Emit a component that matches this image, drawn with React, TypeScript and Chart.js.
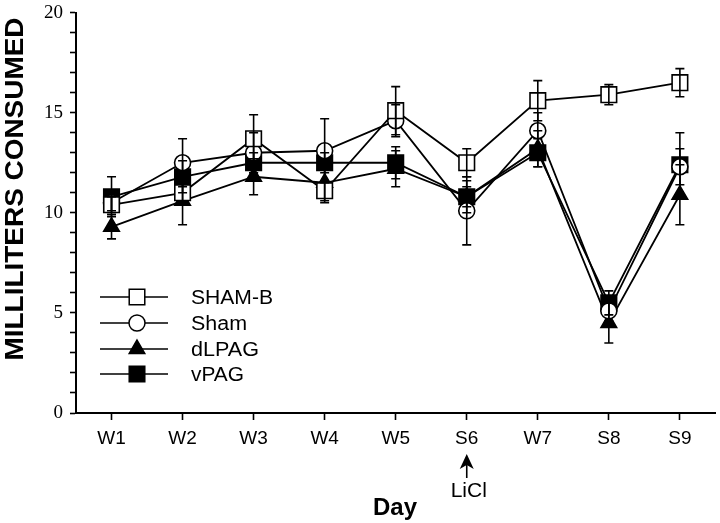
import React, { useEffect, useRef } from "react";
import { Chart, registerables } from "chart.js";

Chart.register(...registerables);

const days = ["W1", "W2", "W3", "W4", "W5", "S6", "W7", "S8", "S9"];
const shamB = [10.4, 11.0, 13.7, 11.1, 15.1, 12.5, 15.6, 15.9, 16.5];
const shamBErr = [0.4, 0.6, 1.2, 0.5, 1.2, 0.7, 1.0, 0.5, 0.7];
const sham = [10.5, 12.5, 13.0, 13.1, 14.6, 10.1, 14.1, 5.1, 12.3];
const shamErr = [0.4, 1.2, 1.0, 1.6, 0.8, 1.7, 0.9, 0.5, 0.9];
const dlpag = [9.3, 10.6, 11.8, 11.5, 12.2, 10.8, 13.2, 4.5, 10.9];
const dlpagErr = [0.6, 1.2, 0.9, 1.0, 0.9, 0.5, 0.9, 1.0, 1.5];
const vpag = [10.8, 11.8, 12.5, 12.5, 12.5, 10.8, 13.0, 5.5, 12.4];
const vpagErr = [1.0, 0.8, 0.5, 0.5, 0.8, 0.8, 0.7, 0.6, 1.6];

const seriesNames = ["SHAM-B", "Sham", "dLPAG", "vPAG"];
const yTitle = "MILLILITERS CONSUMED";
const xTitle = "Day";
const noteLabel = "LiCl";
const noteDay = "S6";

const SANS = "'Liberation Sans', Arial, sans-serif";

function fitText(ctx: any, text: string, x: number, y: number, font: string, width: number) {
  ctx.save();
  ctx.font = font;
  const w = ctx.measureText(text).width;
  const sx = width / w;
  ctx.translate(x, y);
  ctx.scale(sx, 1);
  ctx.fillText(text, 0, 0);
  ctx.restore();
}

export default function App() {
  const ref = useRef<HTMLCanvasElement | null>(null);
  useEffect(() => {
    const canvas = ref.current;
    if (!canvas) return;
    const errs = [shamBErr, shamErr, dlpagErr, vpagErr];

    const errorBars = {
      id: "errorBars",
      afterDatasetsDraw(chart: any) {
        const ctx = chart.ctx;
        const y = chart.scales.y;
        ctx.save();
        ctx.strokeStyle = "#000";
        ctx.lineWidth = 1.6;
        chart.data.datasets.forEach((ds: any, i: number) => {
          const meta = chart.getDatasetMeta(i);
          meta.data.forEach((pt: any, j: number) => {
            const v = ds.data[j];
            const e = errs[i][j];
            const top = y.getPixelForValue(v + e);
            const bot = y.getPixelForValue(v - e);
            ctx.beginPath();
            ctx.moveTo(pt.x, top);
            ctx.lineTo(pt.x, bot);
            ctx.moveTo(pt.x - 4.5, top);
            ctx.lineTo(pt.x + 4.5, top);
            ctx.moveTo(pt.x - 4.5, bot);
            ctx.lineTo(pt.x + 4.5, bot);
            ctx.stroke();
          });
        });
        ctx.restore();
      },
    };

    function drawMarker(ctx: any, ps: string, cx: number, cy: number, r: number, fill: string) {
      ctx.save();
      ctx.fillStyle = fill;
      ctx.strokeStyle = "#000";
      ctx.lineWidth = 1.5;
      ctx.beginPath();
      if (ps === "rect") {
        const s = Math.SQRT1_2 * r;
        ctx.rect(cx - s, cy - s, 2 * s, 2 * s);
      } else if (ps === "circle") {
        ctx.arc(cx, cy, r, 0, Math.PI * 2);
      } else {
        const half = (r * Math.sqrt(3)) / 2;
        ctx.moveTo(cx, cy - r);
        ctx.lineTo(cx + half, cy + r / 2);
        ctx.lineTo(cx - half, cy + r / 2);
        ctx.closePath();
      }
      ctx.fill();
      ctx.stroke();
      ctx.restore();
    }

    const decorations = {
      id: "decorations",
      afterDraw(chart: any) {
        const ctx = chart.ctx;
        const x = chart.scales.x;
        // y title
        ctx.save();
        ctx.fillStyle = "#000";
        ctx.textAlign = "center";
        ctx.textBaseline = "middle";
        ctx.translate(16, 189);
        ctx.rotate(-Math.PI / 2);
        fitText(ctx, yTitle, 0, 0, "bold 25px " + SANS, 343);
        ctx.restore();

        ctx.save();
        ctx.fillStyle = "#000";
        ctx.textAlign = "center";
        ctx.textBaseline = "middle";
        fitText(ctx, xTitle, 395, 509, "bold 23px " + SANS, 44);
        // LiCl arrow
        const idx = days.indexOf(noteDay);
        const ax = x.getPixelForValue(idx);
        ctx.strokeStyle = "#000";
        ctx.lineWidth = 1.6;
        ctx.beginPath();
        ctx.moveTo(ax, 462);
        ctx.lineTo(ax, 478);
        ctx.stroke();
        ctx.beginPath();
        ctx.moveTo(ax, 454);
        ctx.lineTo(ax - 7, 469);
        ctx.lineTo(ax, 465);
        ctx.lineTo(ax + 7, 469);
        ctx.closePath();
        ctx.fill();
        ctx.font = "21px " + SANS;
        ctx.fillText(noteLabel, ax + 2, 491);

        // legend
        const styles = [
          { ps: "rect", fill: "#fff", r: 11 },
          { ps: "circle", fill: "#fff", r: 8 },
          { ps: "triangle", fill: "#000", r: 9 },
          { ps: "rect", fill: "#000", r: 11 },
        ];
        const rows = [297, 323, 349, 374];
        const widths = [82, 56, 68, 53];
        ctx.textAlign = "left";
        seriesNames.forEach((name, i) => {
          const ry = rows[i];
          ctx.strokeStyle = "#000";
          ctx.lineWidth = 1.6;
          ctx.beginPath();
          ctx.moveTo(100, ry);
          ctx.lineTo(168, ry);
          ctx.stroke();
          drawMarker(ctx, styles[i].ps, 137, ry, styles[i].r, styles[i].fill);
          ctx.fillStyle = "#000";
          fitText(ctx, name, 191, ry + 1, "20px " + SANS, widths[i]);
        });
        ctx.restore();
      },
    };

    const mk = (label: string, data: number[], ps: string, fill: string, r: number) => ({
      label,
      data,
      borderColor: "#000",
      borderWidth: 1.8,
      pointStyle: ps,
      pointRadius: r,
      pointBackgroundColor: fill,
      pointBorderColor: "#000",
      pointBorderWidth: 1.6,
      fill: false,
      tension: 0,
    });

    const chart = new Chart(canvas, {
      type: "line",
      data: {
        labels: days,
        datasets: [
          mk(seriesNames[0], shamB, "rect", "#fff", 11),
          mk(seriesNames[1], sham, "circle", "#fff", 8),
          mk(seriesNames[2], dlpag, "triangle", "#000", 9),
          mk(seriesNames[3], vpag, "rect", "#000", 11),
        ],
      },
      options: {
        responsive: false,
        animation: false,
        events: [],
        layout: { padding: { top: 11, right: 0, left: 0, bottom: 0 } },
        plugins: { legend: { display: false }, tooltip: { enabled: false } },
        scales: {
          x: {
            type: "category",
            offset: true,
            grid: {
              display: true,
              drawOnChartArea: false,
              drawTicks: true,
              tickLength: 7,
              tickWidth: 1.6,
              tickColor: "#000",
              offset: false,
            },
            border: { display: true, color: "#000", width: 2 },
            ticks: {
              color: "#000",
              padding: 7,
              font: { family: SANS, size: 19 },
              maxRotation: 0,
            },
            afterFit(scale: any) {
              scale.height = 110;
              scale.paddingLeft = 0;
              scale.paddingRight = 0;
            },
          },
          y: {
            min: 0,
            max: 20,
            grid: {
              display: true,
              drawOnChartArea: false,
              drawTicks: true,
              tickLength: 6,
              tickWidth: 1.6,
              tickColor: "#000",
            },
            border: { display: true, color: "#000", width: 2 },
            ticks: {
              stepSize: 1,
              autoSkip: false,
              color: "#000",
              padding: 7,
              font: { family: "'Liberation Serif', 'Times New Roman', serif", size: 19 },
              callback: (v: any) => (Number(v) % 5 === 0 ? String(v) : ""),
            },
            afterFit(scale: any) {
              scale.width = 76;
              scale.paddingTop = 0;
              scale.paddingBottom = 0;
            },
          },
        },
      },
      plugins: [errorBars, decorations],
    } as any);
    return () => chart.destroy();
  }, []);

  return (
    <div style={{ position: "fixed", left: 0, top: 0, width: 720, height: 523, background: "#fff", overflow: "hidden" }}>
      <canvas ref={ref} width={728} height={523} style={{ display: "block" }} />
    </div>
  );
}
